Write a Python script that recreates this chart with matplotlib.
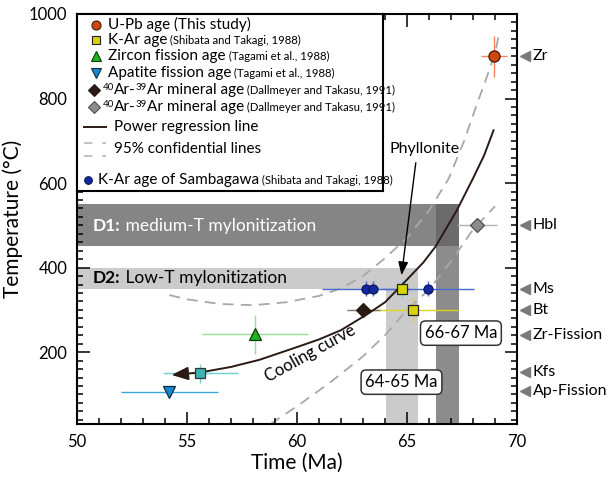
import matplotlib
matplotlib.use('Agg')
import matplotlib.pyplot as plt
from matplotlib.patches import Rectangle
from matplotlib.transforms import blended_transform_factory
from matplotlib.ticker import MultipleLocator

plt.rcParams['font.family'] = ['Lato', 'DejaVu Sans']

# ---------------- data ----------------
upb_age = [68.95]; upb_temp = [900]; upb_xerr = [0.6]; upb_yerr = [48]
kar_age = [64.75, 65.25]; kar_temp = [350, 300]; kar_xerr = [0.0, 2.05]; kar_yerr = [20, 30]
zfis_age = [58.1]; zfis_temp = [242]; zfis_xerr = [2.4]; zfis_yerr = [47]
afis_age = [54.2]; afis_temp = [105]; afis_xerr = [2.2]
kfs_age = [55.6]; kfs_temp = [150]; kfs_xerr = [1.7]; kfs_yerr = [23]
ar_dark_age = [63.0]; ar_dark_temp = [300]; ar_dark_xerr = [0.75]
ar_gray_age = [68.17]; ar_gray_temp = [500]; ar_gray_xerr = [0.9]; ar_gray_yerr = [15]
samb_age = [63.15, 63.45, 65.95]; samb_temp = [350, 350, 350]
samb_xerr = [2.0, 0.0, 2.1]; samb_yerr = [18, 18, 18]

curve_age = [54.3, 55.6, 57.0, 58.3, 60.0, 61.0, 62.0, 63.2, 64.0, 64.75, 65.74,
             66.3, 67.26, 68.0, 68.5, 68.95]
curve_temp = [146, 152, 165, 182, 212, 230, 252, 290, 318, 358, 412,
              450, 535, 611, 665, 727]
upper_age = [54.2, 55.0, 56.5, 58.0, 59.5, 61.0, 62.0, 63.0, 63.9, 65.0, 66.0,
             66.9, 67.6, 68.2, 68.6, 69.0, 69.15]
upper_temp = [335, 325, 314, 311, 318, 333, 351, 380, 418, 470, 535,
              611, 700, 790, 847, 905, 945]
lower_age = [58.8, 60.0, 61.5, 63.0, 64.0, 65.0, 66.0, 67.0, 68.0, 69.0]
lower_temp = [30, 72, 128, 190, 240, 300, 348, 415, 490, 545]

d1_band = (450, 550); d1_xmax = 67.35
d2_band = (350, 400); d2_xmax = 65.5
v_light = (64.05, 65.5); v_light_top = 400
v_dark = (66.3, 67.35); v_dark_top = 550

mineral_labels = ['Zr', 'Hbl', 'Ms', 'Bt', 'Zr-Fission', 'Kfs', 'Ap-Fission']
mineral_temps = [900, 500, 350, 300, 240, 152, 107]

xlim = (50, 70); ylim = (30, 1000)

# ---------------- figure ----------------
W, H = 614, 478
fig = plt.figure(figsize=(W / 100, H / 100), dpi=100)
ax = fig.add_axes([77 / W, (H - 424) / H, 440 / W, 410 / H])
ax.set_xlim(*xlim); ax.set_ylim(*ylim)

# bands
ax.add_patch(Rectangle((xlim[0], d1_band[0]), d1_xmax - xlim[0], d1_band[1] - d1_band[0],
                       facecolor='#858585', edgecolor='none', zorder=0.5))
ax.add_patch(Rectangle((v_dark[0], ylim[0]), v_dark[1] - v_dark[0], v_dark_top - ylim[0],
                       facecolor='#8c8c8c', edgecolor='none', zorder=0.5))
ax.add_patch(Rectangle((v_dark[0], d1_band[0]), v_dark[1] - v_dark[0], d1_band[1] - d1_band[0],
                       facecolor='#6b6b6b', edgecolor='none', zorder=0.6))
ax.add_patch(Rectangle((xlim[0], d2_band[0]), d2_xmax - xlim[0], d2_band[1] - d2_band[0],
                       facecolor='#cbcbcb', edgecolor='none', zorder=0.5))
ax.add_patch(Rectangle((v_light[0], ylim[0]), v_light[1] - v_light[0], v_light_top - ylim[0],
                       facecolor='#cbcbcb', edgecolor='none', zorder=0.5))

# confidence lines
ax.plot(upper_age, upper_temp, color='#a8a8a8', lw=1.3, dashes=(6, 4), zorder=1)
ax.plot(lower_age, lower_temp, color='#a8a8a8', lw=1.3, dashes=(6, 4), zorder=1)

# cooling curve with arrow
ccol = '#2a1a14'
ax.plot(curve_age[1:], curve_temp[1:], color=ccol, lw=1.4, zorder=2.5, solid_capstyle='butt')
ax.annotate('', xy=(curve_age[0], curve_temp[0]), xytext=(curve_age[1], curve_temp[1]),
            arrowprops=dict(arrowstyle='-|>,head_length=1.0,head_width=0.4', color=ccol,
                            lw=1.4, shrinkA=0, shrinkB=0), zorder=2.6)

# error bars
def eb(x, y, xerr, yerr, color, z=2):
    ax.errorbar(x, y, xerr=xerr, yerr=yerr, fmt='none', ecolor=color, elinewidth=1.0,
                capsize=0, zorder=z)

eb(upb_age, upb_temp, upb_xerr, upb_yerr, '#f0845a')
eb(kar_age[1:], kar_temp[1:], kar_xerr[1:], kar_yerr[1:], '#d6d61a')
eb(kar_age[:1], kar_temp[:1], kar_xerr[:1], kar_yerr[:1], '#6fd0d0')
eb(zfis_age, zfis_temp, zfis_xerr, zfis_yerr, '#98e098')
eb(afis_age, afis_temp, afis_xerr, None, '#3aa8e0')
eb(kfs_age, kfs_temp, kfs_xerr, kfs_yerr, '#70d0d0')
eb(ar_dark_age, ar_dark_temp, ar_dark_xerr, None, '#777777')
eb(ar_gray_age, ar_gray_temp, ar_gray_xerr, ar_gray_yerr, '#b0b0b0')
eb(samb_age, samb_temp, samb_xerr, samb_yerr, '#4a6ad0')

# markers
mk = dict(linestyle='none', zorder=3, markeredgewidth=0.9)
ax.plot(upb_age, upb_temp, marker='o', ms=8, mfc='#d2480c', mec='#3a1a0a', **mk)
ax.plot(kar_age, kar_temp, marker='s', ms=7, mfc='#d8d400', mec='#222222', **mk)
ax.plot(zfis_age, zfis_temp, marker='^', ms=9, mfc='#1eb41e', mec='#0a3a0a', **mk)
ax.plot(afis_age, afis_temp, marker='v', ms=9, mfc='#1a88cc', mec='#0a2a40', **mk)
ax.plot(kfs_age, kfs_temp, marker='s', ms=7, mfc='#3cb4b4', mec='#333333', **mk)
ax.plot(ar_dark_age, ar_dark_temp, marker='D', ms=7.5, mfc='#2a1a14', mec='#2a1a14', **mk)
ax.plot(ar_gray_age, ar_gray_temp, marker='D', ms=7.5, mfc='#8c8c8c', mec='#505050', **mk)
ax.plot(samb_age, samb_temp, marker='o', ms=6.5, mfc='#1428a0', mec='#0a1460', **mk)

# band texts (shared baseline)
t1 = ax.text(50.73, 486, 'D1:', color='white', fontsize=12.5, fontweight='bold',
             va='baseline', ha='left', zorder=4)
ax.annotate(' medium-T mylonitization', xy=(1, 486), xycoords=(t1, 'data'), color='white',
            fontsize=12.5, va='baseline', ha='left', zorder=4)
t2 = ax.text(50.73, 363, 'D2:', color='black', fontsize=12.5, fontweight='bold',
             va='baseline', ha='left', zorder=4)
ax.annotate(' Low-T mylonitization', xy=(1, 363), xycoords=(t2, 'data'), color='black',
            fontsize=12.5, va='baseline', ha='left', zorder=4)

# annotations
ax.text(65.8, 680, 'Phyllonite', fontsize=11.5, ha='center', va='center', zorder=4)
ax.annotate('', xy=(64.75, 382), xytext=(65.4, 648),
            arrowprops=dict(arrowstyle='-|>,head_length=0.8,head_width=0.3', color='black',
                            lw=1.0, shrinkA=0, shrinkB=0), zorder=4)
ax.text(60.6, 196, 'Cooling curve', fontsize=12, rotation=29, ha='center', va='center',
        rotation_mode='anchor', zorder=4)
box = dict(boxstyle='round,pad=0.25,rounding_size=0.3', fc='white', ec='#333333', lw=1.1)
ax.text(64.75, 129, '64-65 Ma', fontsize=12, ha='center', va='center', bbox=box, zorder=4)
ax.text(67.45, 245, '66-67 Ma', fontsize=12, ha='center', va='center', bbox=box, zorder=4)

# right-side mineral labels
tr = blended_transform_factory(ax.transAxes, ax.transData)
for lab, tv in zip(mineral_labels, mineral_temps):
    ax.plot([1.019], [tv], marker='<', ms=7, color='#7a7a7a', transform=tr, clip_on=False,
            linestyle='none')
    ax.text(1.036, tv, lab, transform=tr, fontsize=11.5, ha='left', va='center')

# axes styling
ax.xaxis.set_major_locator(MultipleLocator(5))
ax.xaxis.set_minor_locator(MultipleLocator(1))
ax.yaxis.set_major_locator(MultipleLocator(200))
ax.yaxis.set_minor_locator(MultipleLocator(20))
ax.tick_params(which='both', direction='in', top=True, right=True, width=1.1, color='black')
ax.tick_params(which='major', length=9, labelsize=12, pad=7)
ax.tick_params(which='minor', length=4.5)
for s in ax.spines.values():
    s.set_linewidth(1.5)
ax.set_xlabel('Time (Ma)', fontsize=15, labelpad=2)
ax.set_ylabel('Temperature (°C)', fontsize=15, labelpad=4)

# ---------------- legend (custom box) ----------------
lx0, ly_top, lw_, lh_ = 77, 14, 306, 177
lg = fig.add_axes([lx0 / W, (H - ly_top - lh_) / H, lw_ / W, lh_ / H], zorder=5)
lg.set_xlim(0, lw_); lg.set_ylim(lh_, 0)
lg.set_xticks([]); lg.set_yticks([])
for s in lg.spines.values():
    s.set_linewidth(1.5)

def chain(x, yb, parts):
    """parts: list of (text, fontsize, raise_px)"""
    prev = None
    for txt, fs, rz in parts:
        if prev is None:
            prev = lg.text(x, yb - rz, txt, fontsize=fs, va='baseline', ha='left')
        else:
            prev = lg.annotate(txt, xy=(1, yb - rz), xycoords=(prev, 'data'), fontsize=fs,
                               va='baseline', ha='left')
    return prev

def entry(yc, x_text, main, cite, fs_main=11, fs_cite=8.2):
    yb = yc + 4.2
    parts = [(main, fs_main, 0)]
    if cite:
        parts.append((' ' + cite, fs_cite, 0))
    chain(x_text, yb, parts)

def ar_entry(yc, x_text, cite):
    yb = yc + 4.2
    chain(x_text, yb, [('40', 7, 4.5), ('Ar-', 11, 0), ('39', 7, 4.5),
                       ('Ar mineral age', 11, 0), (' ' + cite, 8.2, 0)])

lm = dict(linestyle='none', markeredgewidth=0.8)
lg.plot([19], [10.7], marker='o', ms=6.5, mfc='#d2480c', mec='#3a1a0a', **lm)
entry(10.7, 31, 'U-Pb age (This study)', None)
lg.plot([19], [26.3], marker='s', ms=6, mfc='#d8d400', mec='#222222', **lm)
entry(26.3, 31, 'K-Ar age', '(Shibata and Takagi, 1988)')
lg.plot([19], [42], marker='^', ms=7, mfc='#1eb41e', mec='#0a3a0a', **lm)
entry(42, 31, 'Zircon fission age', '(Tagami et al., 1988)')
lg.plot([19], [58.7], marker='v', ms=7, mfc='#1a88cc', mec='#0a2a40', **lm)
entry(58.7, 31, 'Apatite fission age', '(Tagami et al., 1988)')
lg.plot([17], [76.3], marker='D', ms=6.5, mfc='#2a1a14', mec='#2a1a14', **lm)
ar_entry(76.3, 25.5, '(Dallmeyer and Takasu, 1991)')
lg.plot([17], [93], marker='D', ms=6.5, mfc='#8c8c8c', mec='#505050', **lm)
ar_entry(93, 25.5, '(Dallmeyer and Takasu, 1991)')
lg.plot([7, 29], [113, 113], color=ccol, lw=1.4)
entry(113, 37, 'Power regression line', None)
lg.plot([7, 29], [129, 129], color='#b8b8b8', lw=1.2, dashes=(5, 6))
lg.plot([7, 29], [142, 142], color='#b8b8b8', lw=1.2, dashes=(5, 6))
entry(135, 37, '95% confidential lines', None)
lg.plot([11], [166], marker='o', ms=5.5, mfc='#1428a0', mec='#0a1460', **lm)
entry(166, 21, 'K-Ar age of Sambagawa', '(Shibata and Takagi, 1988)')

fig.savefig('out.png', dpi=100)
